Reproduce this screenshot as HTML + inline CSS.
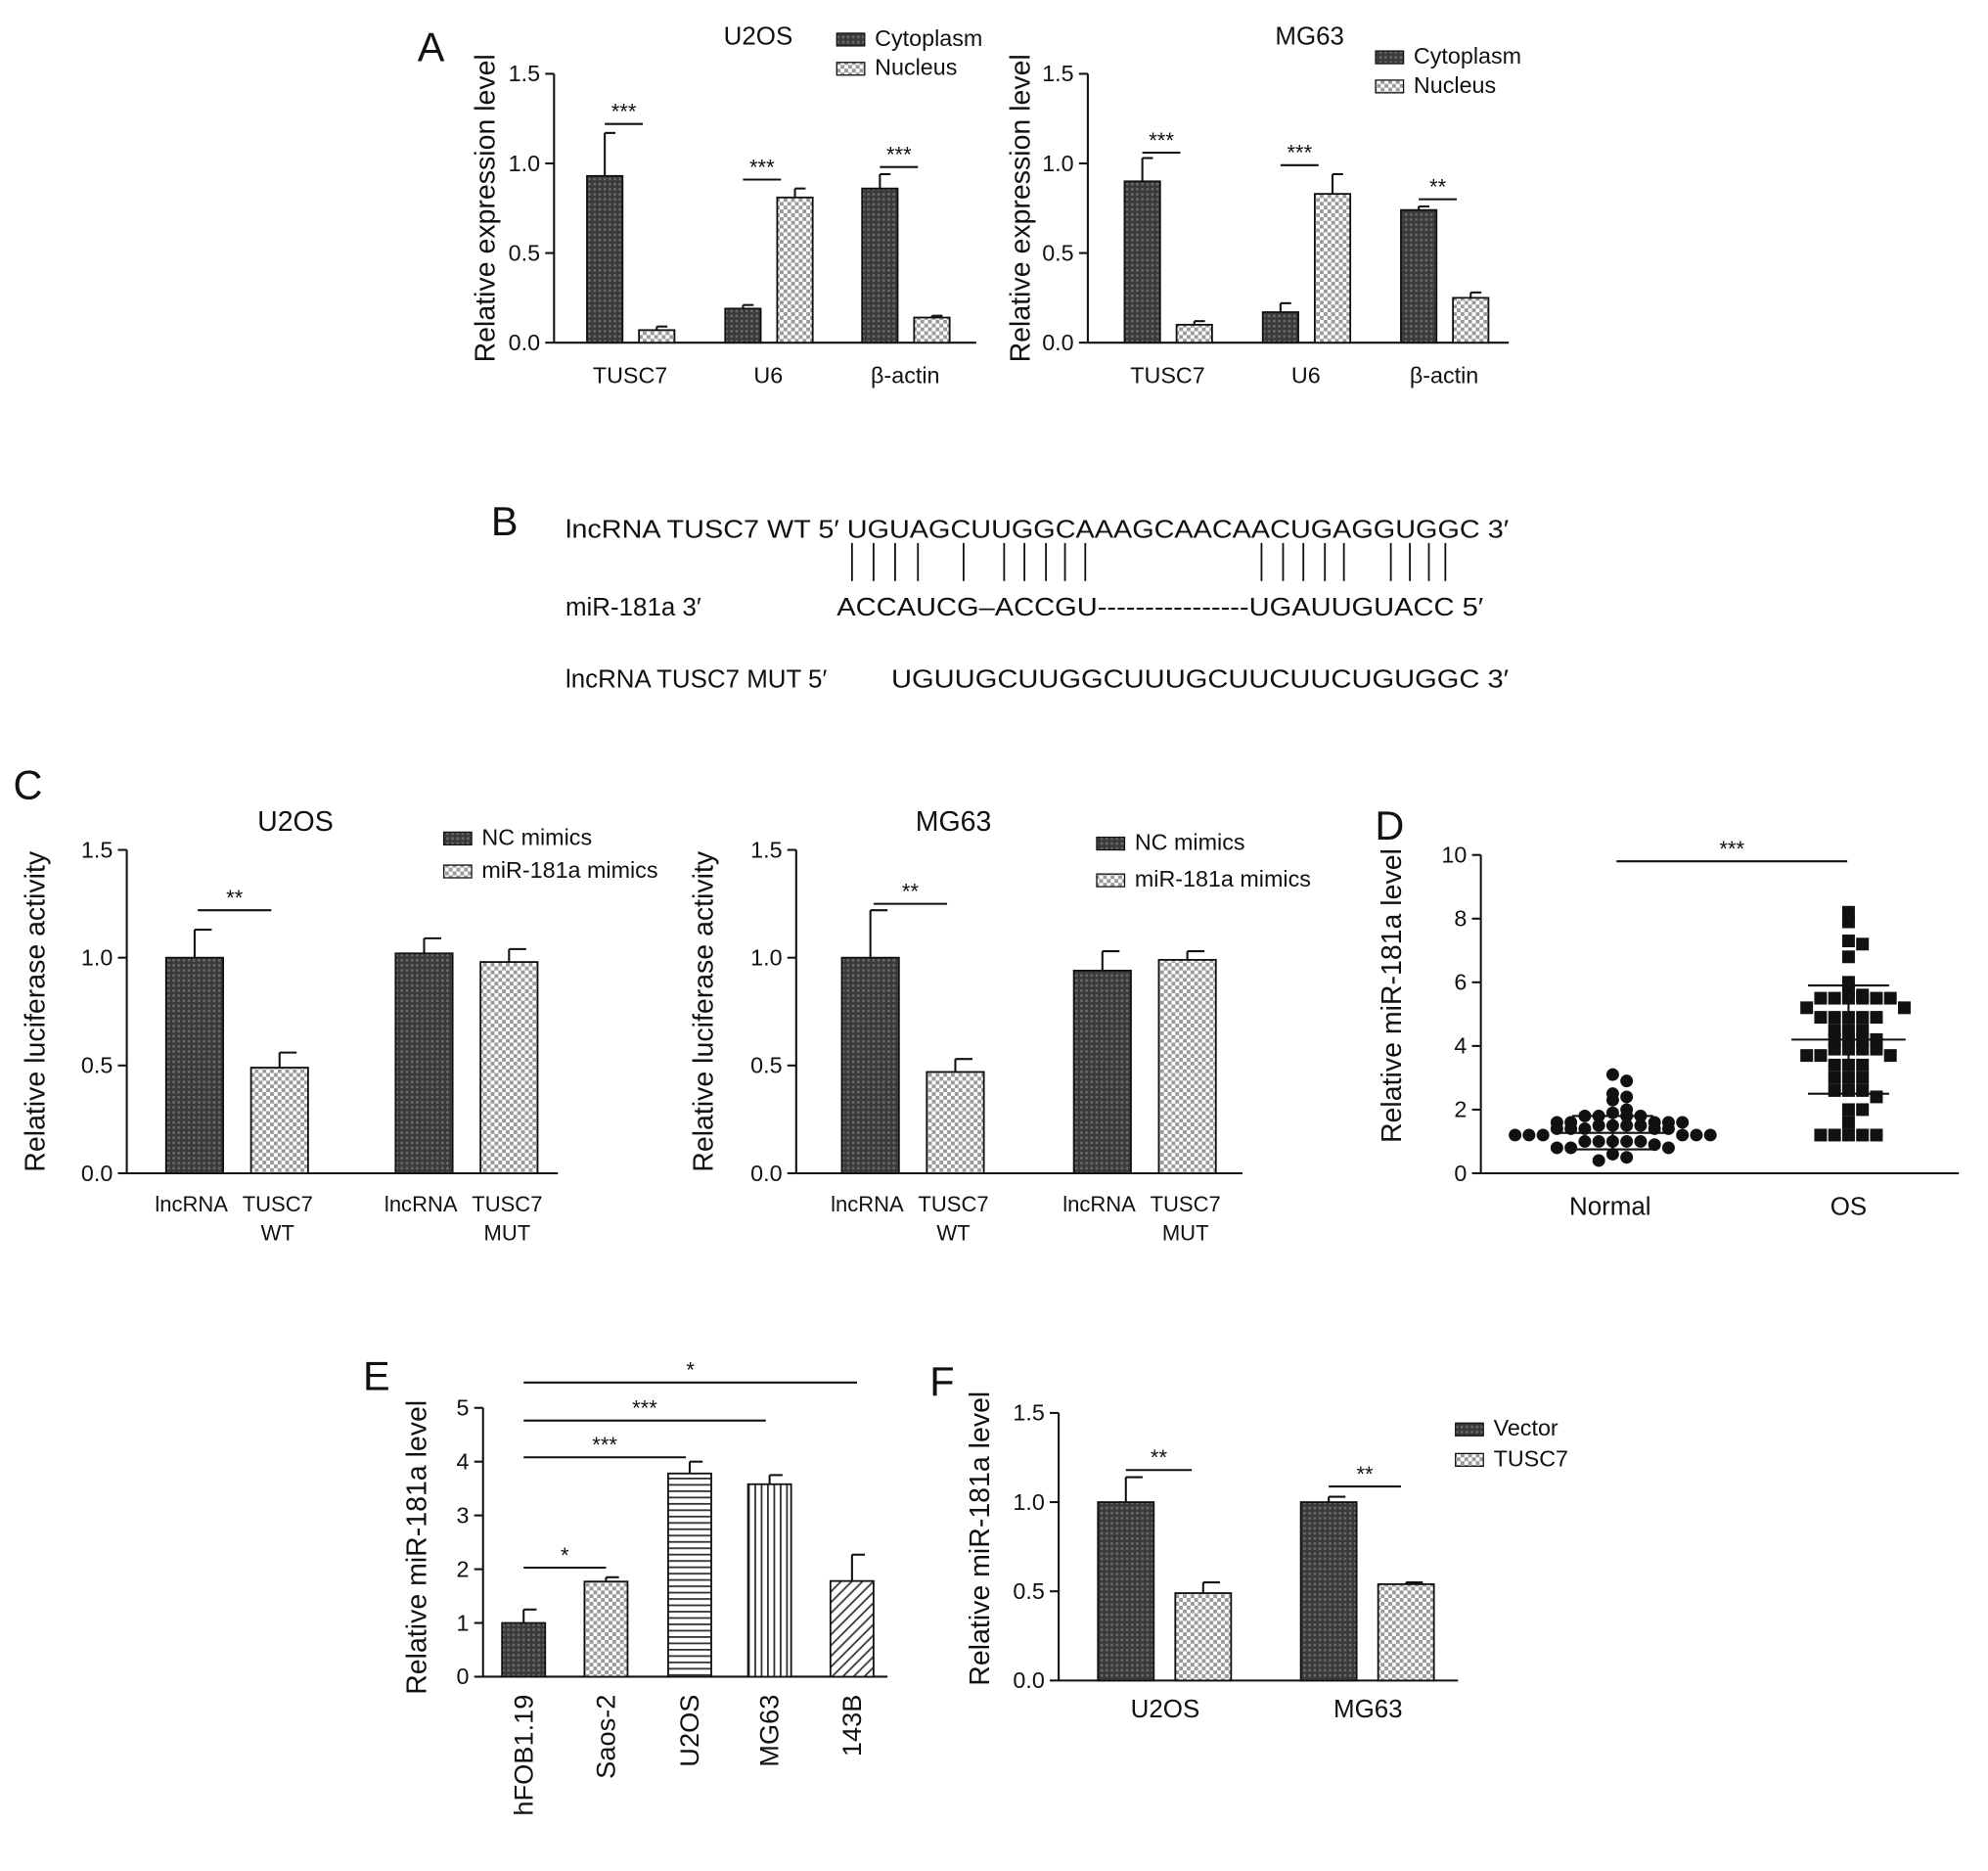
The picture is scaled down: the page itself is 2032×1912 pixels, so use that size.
<!DOCTYPE html>
<html><head><meta charset="utf-8"><style>
html,body{margin:0;padding:0;background:#fff}
svg{display:block;font-family:"Liberation Sans",sans-serif}
</style></head><body>
<svg id="fig" width="2032" height="1912" viewBox="0 0 1568 1475" xmlns="http://www.w3.org/2000/svg">
<defs>
<pattern id="pDark" width="4" height="4" patternUnits="userSpaceOnUse"><rect width="4" height="4" fill="#3a3a3a"/><rect width="2" height="2" fill="#6a6a6a"/></pattern>
<pattern id="pLight" width="6" height="6" patternUnits="userSpaceOnUse"><rect width="6" height="6" fill="#fff"/><rect width="3" height="3" fill="#9a9a9a"/><rect x="3" y="3" width="3" height="3" fill="#9a9a9a"/></pattern>
<pattern id="pHor" width="6" height="5" patternUnits="userSpaceOnUse"><rect width="6" height="5" fill="#fff"/><rect width="6" height="1.4" fill="#333"/></pattern>
<pattern id="pVer" width="5" height="6" patternUnits="userSpaceOnUse"><rect width="5" height="6" fill="#fff"/><rect width="1.4" height="6" fill="#333"/></pattern>
<pattern id="pDiag" width="6" height="6" patternUnits="userSpaceOnUse" patternTransform="rotate(45)"><rect width="6" height="6" fill="#fff"/><rect width="1.5" height="6" fill="#444"/></pattern>
</defs>
</svg>
<script>
// ---- data ----
const aCats = ["TUSC7","U6","β-actin"];
const aU2Cyto = [0.93,0.19,0.86], aU2CytoErr = [0.24,0.02,0.08];
const aU2Nuc = [0.07,0.81,0.14], aU2NucErr = [0.02,0.05,0.01];
const aMGCyto = [0.90,0.17,0.74], aMGCytoErr = [0.13,0.05,0.02];
const aMGNuc = [0.10,0.83,0.25], aMGNucErr = [0.02,0.11,0.03];
const yTicks15 = [0,0.5,1.0,1.5];
const cU2NC = [1.0,1.02], cU2NCErr=[0.13,0.07];
const cU2Mi = [0.49,0.98], cU2MiErr=[0.07,0.06];
const cMGNC = [1.0,0.94], cMGNCErr=[0.22,0.09];
const cMGMi = [0.47,0.99], cMGMiErr=[0.06,0.04];
const dNormal = [3.1,2.9,2.5,2.4,2.3,2.0,1.9,1.8,1.8,1.8,1.8,1.6,1.6,1.6,1.6,1.6,1.5,1.5,1.5,1.5,1.4,1.4,1.4,1.4,1.4,1.2,1.2,1.2,1.2,1.2,1.2,1.0,1.0,1.0,1.0,1.0,0.9,0.8,0.8,0.8,0.6,0.5,0.4];
const dOS = [8.2,7.9,7.3,7.2,6.8,6.0,5.7,5.6,5.5,5.5,5.5,5.5,5.5,5.5,5.2,5.2,4.9,4.9,4.9,4.9,4.9,4.5,4.5,4.5,4.2,4.2,4.2,4.2,3.9,3.9,3.9,3.9,3.7,3.7,3.7,3.4,3.4,3.4,3.0,3.0,3.0,2.6,2.6,2.6,2.4,2.0,2.0,1.6,1.2,1.2,1.2,1.2,1.2];
const dNormalStats = [1.27,1.8,0.75], dOSStats=[4.2,5.9,2.5];
const dTicks = [0,2,4,6,8,10];
const eCats = ["hFOB1.19","Saos-2","U2OS","MG63","143B"];
const eVals = [1.0,1.77,3.78,3.58,1.78], eErr=[0.25,0.08,0.22,0.17,0.49];
const eTicks = [0,1,2,3,4,5];
const fCats = ["U2OS","MG63"];
const fVec = [1.0,1.0], fVecErr=[0.14,0.03];
const fTus = [0.49,0.54], fTusErr=[0.06,0.01];

const svg = document.getElementById('fig');
const NS = 'http://www.w3.org/2000/svg';
function el(tag, attrs, parent, text){
  const e=document.createElementNS(NS,tag);
  for(const k in attrs) e.setAttribute(k,attrs[k]);
  if(text!==undefined) e.textContent=text;
  (parent||svg).appendChild(e); return e;
}
function txt(x,y,s,size,name,anchor,extra){
  const t=el('text',Object.assign({x:x,y:y,'font-size':size,'text-anchor':anchor||'middle',fill:'#111'},extra||{}),null,s);
  
  
  return t;
}
function line(x1,y1,x2,y2,name,w){
  const l=el('line',{x1:x1,y1:y1,x2:x2,y2:y2,stroke:'#111','stroke-width':w||1.6});
  
  
  return l;
}
function axes(o){
  const y=v=>o.y0-(v-o.min)/(o.max-o.min)*(o.y0-o.y1);
  line(o.x,o.y0,o.x,o.y1,o.id+'-y-axis');
  line(o.x,o.y0,o.xEnd,o.y0,o.id+'-x-axis');
  o.ticks.forEach((t,i)=>{
    line(o.x-7,y(t),o.x,y(t),o.id+'-y-tick');
    txt(o.x-11,y(t)+6,o.tickLabels?o.tickLabels[i]:String(t),18,o.id+'-y-tick-label','end');
  });
  const ty=o.tyc||(o.y0+o.y1)/2;
  txt(o.tx,ty,o.title,22,o.id+'-y-axis-title','middle',{transform:`rotate(-90 ${o.tx} ${ty})`});
  return y;
}
function bar(x,w,v,err,y,fill,name){
  const r=el('rect',{x:x,y:y(v),width:w,height:y(0)-y(v),fill:fill,stroke:'#111','stroke-width':1.4});
  
  
  line(x+w/2,y(v),x+w/2,y(v+err),name+'-error');
  line(x+w/2,y(v+err),x+w/2+w*0.3,y(v+err),name+'-error-cap');
}
function sig(x1,x2,yy,s,name){
  line(x1,yy,x2,yy,name+'-line');
  txt((x1+x2)/2,yy-4,s,17,name+'-label');
}
function legend(x,y,fill,label,name){
  const r=el('rect',{x:x,y:y-6,width:22,height:10,fill:fill,stroke:'#111','stroke-width':1});
  
  
  txt(x+30,y+4,label,18,name+'-label','start');
}
// panel letters
[['A',340,48],['B',398,422],['C',22,630],['D',1096,662],['E',297,1096],['F',743,1100]].forEach(p=>txt(p[1],p[2],p[0],32,'panel-label-'+p[0].toLowerCase()));

// Panel A
function panelA(id,x,xEnd,tx,cyto,cytoE,nuc,nucE,xs,sigs,title,titleX,legX,legY){
  const y=axes({id:id,x:x,xEnd:xEnd,y0:270,y1:58,min:0,max:1.5,ticks:yTicks15,tickLabels:['0.0','0.5','1.0','1.5'],tx:tx,title:'Relative expression level'});
  aCats.forEach((c,i)=>{
    bar(xs[i],28,cyto[i],cytoE[i],y,'url(#pDark)',id+'-bar-cytoplasm-'+i);
    bar(xs[i]+41,28,nuc[i],nucE[i],y,'url(#pLight)',id+'-bar-nucleus-'+i);
    txt(xs[i]+34,302,c,18,id+'-x-label');
  });
  sigs.forEach((s,i)=>sig(xs[i]+14,xs[i]+44,y(s[0]),s[1],id+'-sig-'+i));
  txt(titleX,35,title,20,id+'-title');
  legend(legX,legY,'url(#pDark)','Cytoplasm',id+'-legend-cytoplasm');
  legend(legX,legY+23,'url(#pLight)','Nucleus',id+'-legend-nucleus');
}
panelA('a-u2os',437,770,390,aU2Cyto,aU2CytoErr,aU2Nuc,aU2NucErr,[463,572,680],[[1.22,'***'],[0.91,'***'],[0.98,'***']],'U2OS',598,660,32);
panelA('a-mg63',858,1190,812,aMGCyto,aMGCytoErr,aMGNuc,aMGNucErr,[887,996,1105],[[1.06,'***'],[0.99,'***'],[0.80,'**']],'MG63',1033,1085,46);

// Panel B
txt(446,424,'lncRNA TUSC7 WT 5′ UGUAGCUUGGCAAAGCAACAACUGAGGUGGC 3′',20,'b-wt-sequence','start',{textLength:744,lengthAdjust:'spacingAndGlyphs'});
txt(446,485,'miR-181a 3′',20,'b-mir-label','start');
txt(660,485,'ACCAUCG–ACCGU----------------UGAUUGUACC 5′',20,'b-mir-sequence','start',{textLength:510,lengthAdjust:'spacingAndGlyphs'});
txt(446,542,'lncRNA TUSC7 MUT 5′',20,'b-mut-label','start');
txt(703,542,'UGUUGCUUGGCUUUGCUUCUUCUGUGGC 3′',20,'b-mut-sequence','start',{textLength:487,lengthAdjust:'spacingAndGlyphs'});
[672,689,706,724,760,792,808,825,840,856,995,1012,1028,1045,1060,1097,1112,1127,1140].forEach(x=>line(x,428,x,458,'b-pairing-bar',1.4));

// Panel C
function panelC(id,x,xEnd,tx,nc,ncE,mi,miE,xs,sigY,title,titleX,legX,legY,legY2){
  const y=axes({id:id,x:x,xEnd:xEnd,y0:925,y1:670,min:0,max:1.5,ticks:yTicks15,tickLabels:['0.0','0.5','1.0','1.5'],tx:tx,title:'Relative luciferase activity'});
  ['WT','MUT'].forEach((c,i)=>{
    bar(xs[i],45,nc[i],ncE[i],y,'url(#pDark)',id+'-bar-nc-'+c.toLowerCase());
    bar(xs[i]+67,45,mi[i],miE[i],y,'url(#pLight)',id+'-bar-mir-'+c.toLowerCase());
    txt(xs[i]+20,955,'lncRNA',17,id+'-x-label');
    txt(xs[i]+88,955,'TUSC7',17,id+'-x-label');
    txt(xs[i]+88,978,c,17,id+'-x-label');
  });
  sig(xs[0]+25,xs[0]+83,y(sigY),'**',id+'-sig');
  txt(titleX,655,title,22,id+'-title');
  legend(legX,legY,'url(#pDark)','NC mimics',id+'-legend-nc');
  legend(legX,legY2,'url(#pLight)','miR-181a mimics',id+'-legend-mir');
}
panelC('c-u2os',100,440,35,cU2NC,cU2NCErr,cU2Mi,cU2MiErr,[131,312],1.22,'U2OS',233,350,662,688);
panelC('c-mg63',628,980,562,cMGNC,cMGNCErr,cMGMi,cMGMiErr,[664,847],1.25,'MG63',752,865,666,695);

// Panel D
(function(){
  const y=axes({id:'d',x:1168,xEnd:1545,y0:925,y1:674,min:0,max:10,ticks:dTicks,tx:1105,title:'Relative miR-181a level',tyc:785});
  function swarm(vals,cx,shape,name){
    const bins={};
    vals.forEach(v=>{
      const k=Math.round(y(v)/10);
      bins[k]=(bins[k]||0)+1;
      const n=bins[k]-1;
      const off=(n%2?1:-1)*Math.ceil(n/2)*11;
      let m;
      if(shape==='c') m=el('circle',{cx:cx+off,cy:y(v),r:5,fill:'#111'});
      else m=el('rect',{x:cx+off-5,y:y(v)-5,width:10,height:10,fill:'#111'});
      
      
    });
  }
  swarm(dNormal,1272,'c','d-point-normal');
  swarm(dOS,1458,'s','d-point-os');
  [[dNormalStats,1272,'normal'],[dOSStats,1458,'os']].forEach(s=>{
    line(s[1]-45,y(s[0][0]),s[1]+45,y(s[0][0]),'d-mean-'+s[2]);
    line(s[1]-32,y(s[0][1]),s[1]+32,y(s[0][1]),'d-sd-upper-'+s[2]);
    line(s[1]-32,y(s[0][2]),s[1]+32,y(s[0][2]),'d-sd-lower-'+s[2]);
    line(s[1],y(s[0][1]),s[1],y(s[0][2]),'d-sd-'+s[2]);
  });
  txt(1270,958,'Normal',20,'d-x-label');
  txt(1458,958,'OS',20,'d-x-label');
  sig(1275,1457,679,'***','d-sig');
})();

// Panel E
(function(){
  const y=axes({id:'e',x:381,xEnd:700,y0:1322,y1:1110,min:0,max:5,ticks:eTicks,tx:336,title:'Relative miR-181a level',tyc:1220});
  const fills=['url(#pDark)','url(#pLight)','url(#pHor)','url(#pVer)','url(#pDiag)'];
  const xs=[396,461,527,590,655];
  eCats.forEach((c,i)=>{
    bar(xs[i],34,eVals[i],eErr[i],y,fills[i],'e-bar-'+c.toLowerCase());
    const cx=xs[i]+24, cy=1336;
    txt(cx,cy,c,21,'e-x-label','end',{transform:`rotate(-90 ${cx} ${cy})`});
  });
  sig(413,478,1236,'*','e-sig-saos2');
  sig(413,541,1149,'***','e-sig-u2os');
  sig(413,604,1120,'***','e-sig-mg63');
  sig(413,676,1090,'*','e-sig-143b');
})();

// Panel F
(function(){
  const y=axes({id:'f',x:835,xEnd:1150,y0:1325,y1:1114,min:0,max:1.5,ticks:yTicks15,tickLabels:['0.0','0.5','1.0','1.5'],tx:780,title:'Relative miR-181a level',tyc:1213});
  const xs=[866,1026];
  fCats.forEach((c,i)=>{
    bar(xs[i],44,fVec[i],fVecErr[i],y,'url(#pDark)','f-bar-vector-'+c.toLowerCase());
    bar(xs[i]+61,44,fTus[i],fTusErr[i],y,'url(#pLight)','f-bar-tusc7-'+c.toLowerCase());
    txt(xs[i]+53,1354,c,20,'f-x-label');
  });
  sig(888,940,1159,'**','f-sig-u2os');
  sig(1048,1105,1172,'**','f-sig-mg63');
  legend(1148,1128,'url(#pDark)','Vector','f-legend-vector');
  legend(1148,1152,'url(#pLight)','TUSC7','f-legend-tusc7');
})();
</script>
</body></html>
